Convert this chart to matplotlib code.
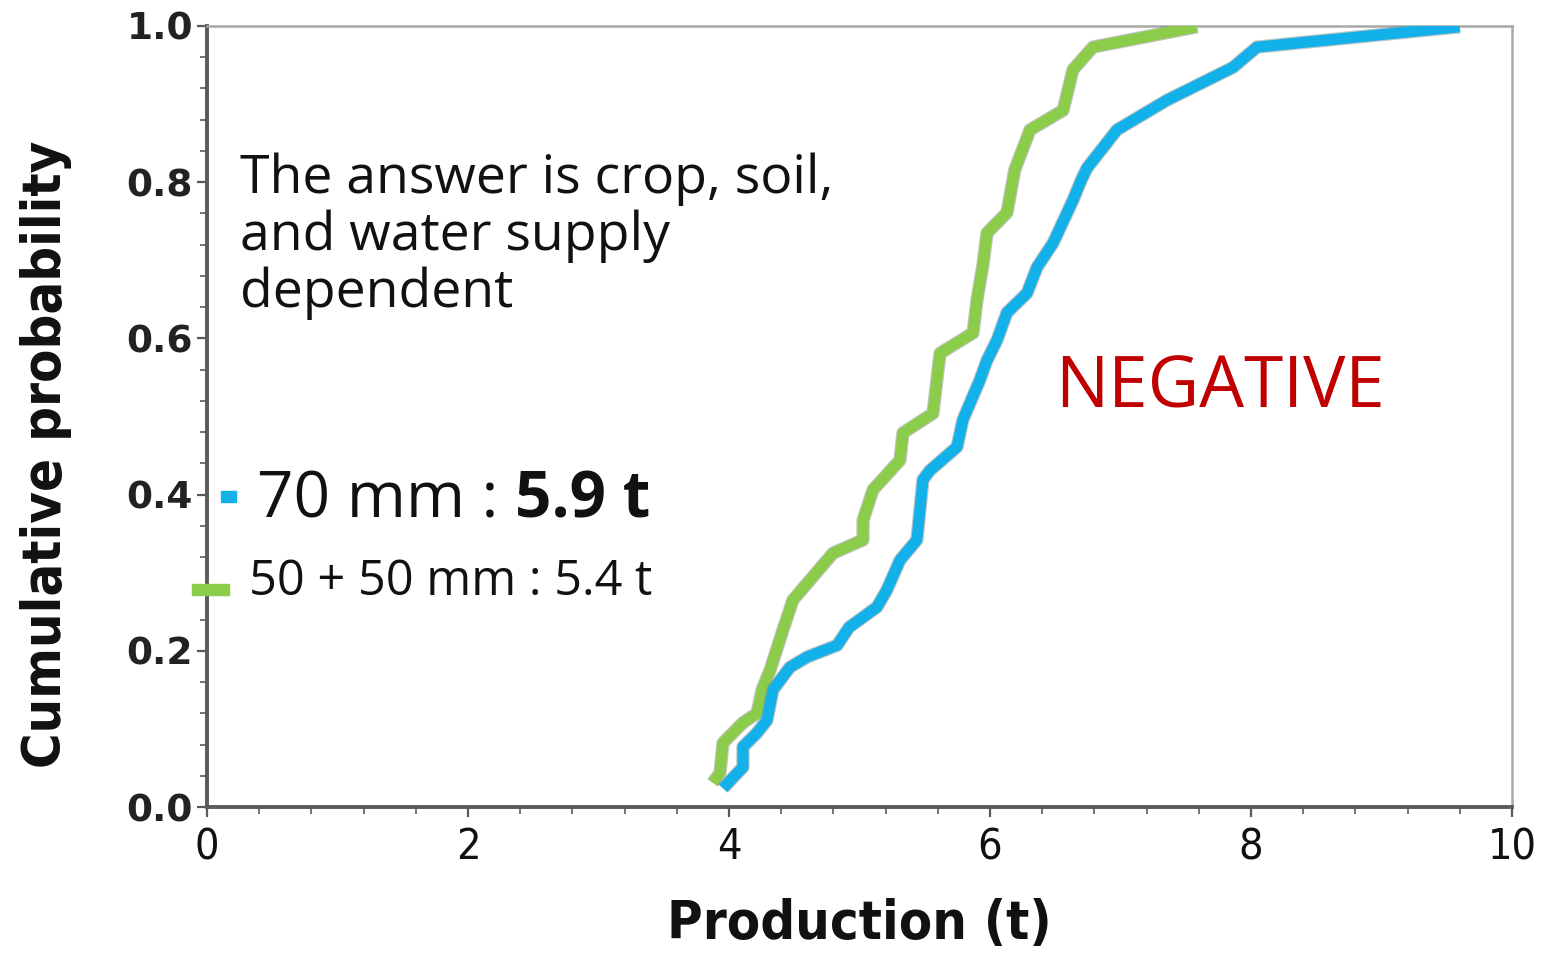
import matplotlib
matplotlib.use("Agg")
import matplotlib.pyplot as plt
from matplotlib.ticker import MultipleLocator
from matplotlib.patches import Rectangle
import matplotlib.patheffects as pe

# Cumulative distribution of production under two irrigation schedules
prod_70mm = [3.954, 4.107, 4.107, 4.215, 4.291, 4.337, 4.467, 4.598, 4.828, 4.92,
             5.134, 5.21, 5.31, 5.44, 5.486, 5.54, 5.747, 5.793, 5.923, 5.977,
             6.054, 6.13, 6.284, 6.36, 6.483, 6.636, 6.70, 6.743, 6.973, 7.356,
             7.862, 8.046, 9.60]
prob_70mm = [0.024, 0.051, 0.077, 0.095, 0.111, 0.150, 0.179, 0.192, 0.207, 0.230,
             0.256, 0.278, 0.316, 0.342, 0.419, 0.431, 0.461, 0.496, 0.547, 0.572,
             0.598, 0.633, 0.658, 0.691, 0.722, 0.777, 0.803, 0.818, 0.867, 0.905,
             0.947, 0.973, 0.999]

prod_50_50 = [3.877, 3.931, 3.954, 4.107, 4.215, 4.253, 4.314, 4.414, 4.49, 4.797,
              5.027, 5.027, 5.103, 5.31, 5.333, 5.563, 5.617, 5.87, 5.90, 5.946,
              5.977, 6.13, 6.19, 6.307, 6.56, 6.636, 6.789, 7.586]
prob_50_50 = [0.031, 0.044, 0.082, 0.108, 0.120, 0.150, 0.175, 0.227, 0.265, 0.325,
              0.342, 0.367, 0.406, 0.444, 0.479, 0.504, 0.581, 0.607, 0.649, 0.694,
              0.735, 0.761, 0.816, 0.867, 0.892, 0.944, 0.973, 0.999]

series_labels = ["70 mm : ", "5.9 t", "50 + 50 mm : 5.4 t"]
note_lines = ["The answer is crop, soil,", "and water supply", "dependent"]
x_ticks = [0, 2, 4, 6, 8, 10]
y_ticks = [0.0, 0.2, 0.4, 0.6, 0.8, 1.0]

BLUE = "#13b1ea"
GREEN = "#8ccc4b"
RED = "#c00000"
TEXT_FONT = ["Open Sans", "DejaVu Sans"]

W, H = 1549, 957
fig = plt.figure(figsize=(W / 100, H / 100), dpi=100)
ax = fig.add_axes([207 / W, 1 - 807 / H, (1512 - 207) / W, (807 - 26) / H])

edge = [pe.Stroke(linewidth=9.6, foreground="#8a8a8a", alpha=0.5), pe.Normal()]
ax.plot(prod_50_50, prob_50_50, color=GREEN, lw=8.0, solid_joinstyle="round",
        solid_capstyle="butt", path_effects=edge, zorder=3)
ax.plot(prod_70mm, prob_70mm, color=BLUE, lw=8.0, solid_joinstyle="round",
        solid_capstyle="butt", path_effects=edge, zorder=4)

ax.set_xlim(0, 10)
ax.set_ylim(0, 1.0)
ax.set_xticks(x_ticks)
ax.set_yticks(y_ticks)
ax.xaxis.set_minor_locator(MultipleLocator(0.4))
ax.yaxis.set_minor_locator(MultipleLocator(0.04))
ax.set_yticklabels([f"{v:.1f}" for v in y_ticks])
ax.set_xticklabels([str(v) for v in x_ticks])

for side in ("left", "bottom"):
    ax.spines[side].set_color("#5a5a5a")
    ax.spines[side].set_linewidth(2.8)
for side in ("top", "right"):
    ax.spines[side].set_color("#a8a8a8")
    ax.spines[side].set_linewidth(1.8)

ax.tick_params(axis="both", which="major", direction="out", length=7, width=1.6,
               color="#5a5a5a")
ax.tick_params(axis="both", which="minor", direction="out", length=5, width=1.2,
               color="#5a5a5a")
ax.tick_params(axis="y", which="major", pad=3)
ax.tick_params(axis="x", which="major", pad=7)
for lab in ax.get_yticklabels():
    lab.set_fontfamily("DejaVu Sans")
    lab.set_fontweight("bold")
    lab.set_fontsize(27)
    lab.set_color("#222222")
for lab in ax.get_xticklabels():
    lab.set_fontfamily("DejaVu Sans")
    lab.set_fontstretch("condensed")
    lab.set_fontsize(31)
    lab.set_color("#111111")

ax.set_xlabel("Production (t)", fontsize=39, fontweight="bold",
              fontstretch="condensed", family="DejaVu Sans", color="#111111")
ax.xaxis.set_label_coords(0.5, -0.117)
ax.set_ylabel("Cumulative probability", fontsize=39, fontweight="bold",
              fontstretch="condensed", family="DejaVu Sans", color="#111111")
ax.yaxis.set_label_coords(-0.1034, 0.451)

# Annotation text, one baseline per line
for line, base in zip(note_lines, [193, 250, 307]):
    fig.text(240 / W, 1 - base / H, line, family=TEXT_FONT, fontsize=38.5,
             color="#111111", va="baseline", ha="left")
fig.text(1055 / W, 1 - 408 / H, "NEGATIVE", family=TEXT_FONT, fontsize=51,
         color=RED, va="baseline", ha="left")

# Series labels with colour keys
t1 = fig.text(257 / W, 1 - 518 / H, series_labels[0], family=TEXT_FONT, fontsize=46,
              color="#111111", va="baseline", ha="left")
fig.canvas.draw()
bb = t1.get_window_extent()
fig.text(bb.x1 / W, 1 - 518 / H, series_labels[1], family=TEXT_FONT, fontsize=46,
         fontweight="bold", color="#111111", va="baseline", ha="left")
fig.text(249 / W, 1 - 595 / H, series_labels[2], family=TEXT_FONT, fontsize=35,
         color="#111111", va="baseline", ha="left")

fig.patches.append(Rectangle((221 / W, 1 - 502 / H), 15 / W, 11 / H,
                             transform=fig.transFigure, color=BLUE, zorder=5))
fig.patches.append(Rectangle((192 / W, 1 - 595 / H), 37 / W, 11 / H,
                             transform=fig.transFigure, color=GREEN, zorder=5))

fig.savefig("out.png", dpi=100, facecolor="white")
